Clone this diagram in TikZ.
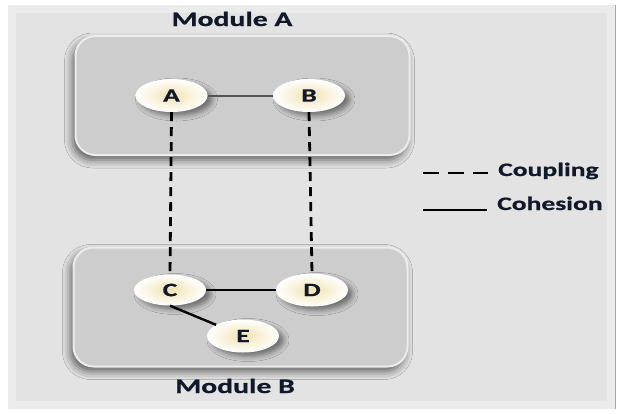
\documentclass[tikz,border=0pt]{standalone}
\usepackage{fontspec}
\setmainfont{Carlito}
\newfontfamily\widefont[FakeStretch=1.45,FakeBold=0.8]{Carlito}
\usetikzlibrary{shadows,shadows.blur,shapes.geometric}
\definecolor{panelgray}{HTML}{E3E3E3}
\definecolor{boxgray}{HTML}{CDCDCD}
\definecolor{txtnavy}{HTML}{10182A}
\definecolor{cream}{HTML}{F2E2B0}
\definecolor{abline}{HTML}{555555}
\tikzset{
  modbox/.style={rectangle, rounded corners=20pt, fill=boxgray, draw=white!85!gray, line width=2pt,
    blur shadow={shadow xshift=-3pt, shadow yshift=-5pt, shadow blur radius=8pt, shadow opacity=60}},
  oval/.style={ellipse, minimum width=72pt, minimum height=33pt, inner sep=0pt,
    inner color=cream, outer color=white,
    blur shadow={shadow xshift=5pt, shadow yshift=-4pt, shadow blur radius=5pt, shadow opacity=45},
    font=\widefont\bfseries\fontsize{19}{19}\selectfont, text=txtnavy},
  title/.style={font=\widefont\bfseries\fontsize{20.5}{20.5}\selectfont, text=txtnavy},
  legtxt/.style={font=\widefont\bfseries\fontsize{19}{19}\selectfont, text=txtnavy, anchor=base west, inner sep=0pt},
  coupling/.style={black, line width=2.8pt, dash pattern=on 9pt off 6pt},
  cohesion/.style={black, line width=2.4pt},
}
\begin{document}
\begin{tikzpicture}[x=1pt,y=-1pt]
\useasboundingbox (0,0) rectangle (620,413);
\fill[white] (0,0) rectangle (620,413);
% panel
\fill[panelgray] (8,5) rectangle (615,409);
\draw[white, opacity=0.3, line width=8pt] (12,9) rectangle (611,405);
\draw[gray!70, line width=1pt] (615,5) -- (615,409);
% modules
\node[modbox, minimum width=334pt, minimum height=119pt] (MA) at (242.5,95.5) {};
\node[modbox, minimum width=334pt, minimum height=119pt] (MB) at (240.5,307) {};
\node[title, anchor=base] (TA) at (232,26) {Module A};
\node[title, anchor=base] (TB) at (235,393) {Module B};
% nodes
\node[oval] (A) at (171.5,95.5) {A};
\node[oval] (B) at (309,95.5) {B};
\node[oval, minimum height=31pt] (C) at (170,290) {C};
\node[oval] (D) at (312,290) {D};
\node[oval] (E) at (243,336) {E};
% connectors
\draw[abline, line width=2pt] (A) -- (B);
\draw[cohesion] (C) -- (D);
\draw[cohesion] (C.south) -- (E);
\draw[coupling] (A.south) -- (C.north);
\draw[coupling] (B.south) -- (D.north);
% legend
\coordinate (L1a) at (423,173);
\coordinate (L1b) at (488,173);
\coordinate (L2a) at (423,210);
\coordinate (L2b) at (487,210);
\draw[black, line width=2.4pt, dash pattern=on 16pt off 9pt] (L1a) -- (L1b);
\draw[cohesion] (L2a) -- (L2b);
\node[legtxt] (LC) at (498,176) {Coupling};
\node[legtxt] (LH) at (497,210) {Cohesion};
\end{tikzpicture}
\end{document}
